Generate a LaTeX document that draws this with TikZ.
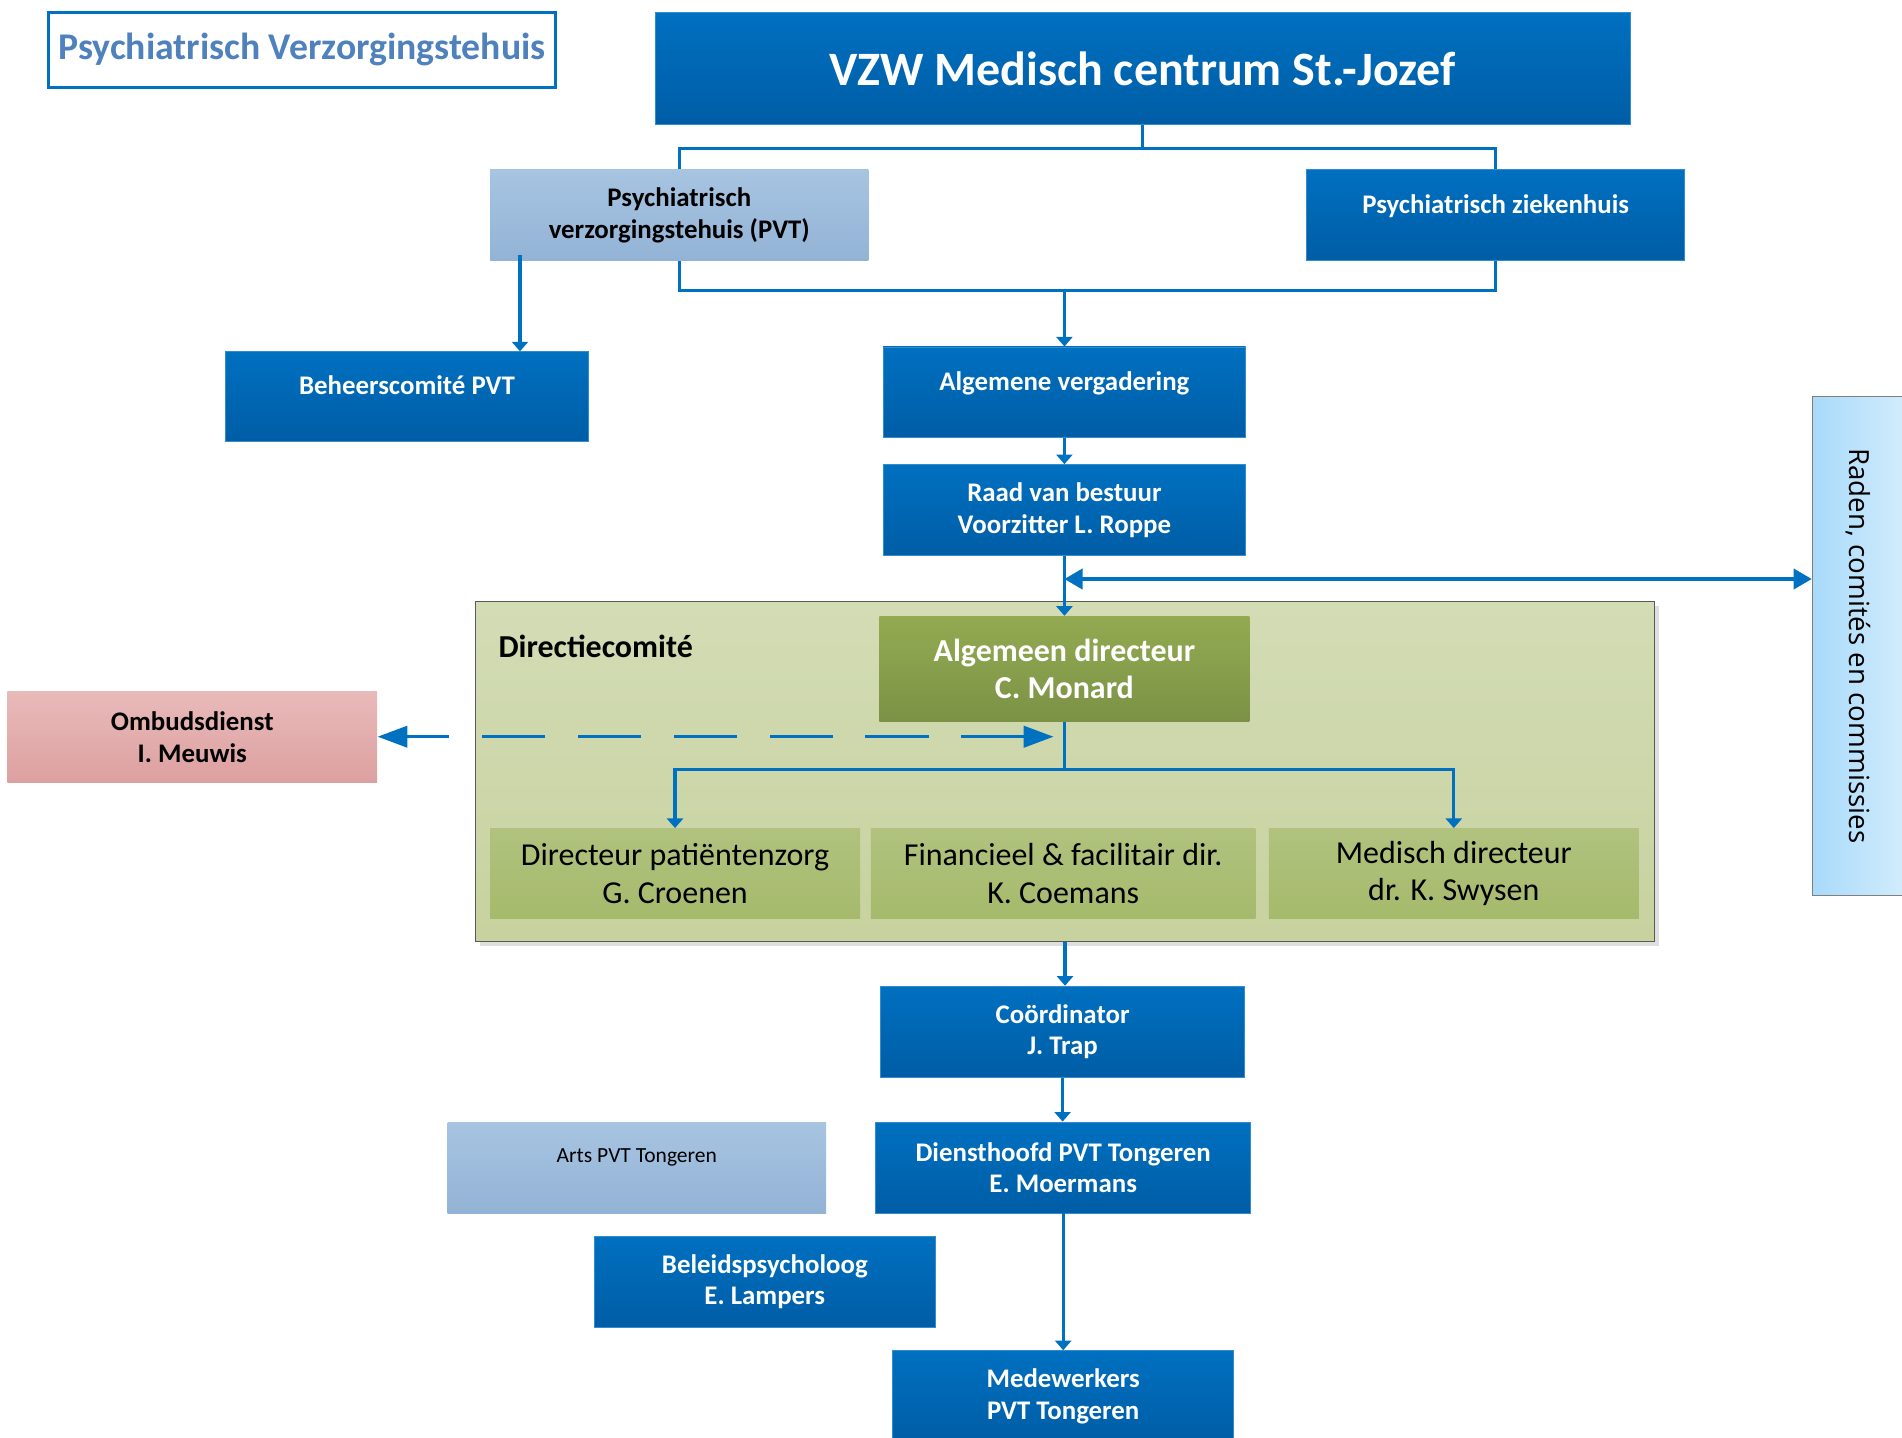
\documentclass[tikz,border=0pt]{standalone}
\usepackage{fontspec}
\setmainfont{Carlito}
\newfontfamily\radenfont{Open Sans}
\usetikzlibrary{arrows.meta,shadows}

\definecolor{boxblue}{HTML}{0070C0}
\definecolor{boxblued}{HTML}{005DA6}
\definecolor{lineblue}{HTML}{0070C0}
\definecolor{titleblue}{HTML}{4F81BD}
\definecolor{pvtl}{HTML}{A7C4E1}
\definecolor{pvtd}{HTML}{93B3D6}
\definecolor{dcl}{HTML}{D3DCB5}
\definecolor{dcd}{HTML}{C7D29F}
\definecolor{adl}{HTML}{93AA52}
\definecolor{add}{HTML}{7B9246}
\definecolor{subl}{HTML}{B0C27E}
\definecolor{subd}{HTML}{A6BA6C}
\definecolor{ombl}{HTML}{E9BABA}
\definecolor{ombd}{HTML}{DDA0A0}
\definecolor{radl}{HTML}{A8DAFA}
\definecolor{radr}{HTML}{D2ECFC}

\tikzset{
  bluebox/.style={draw=boxblue!80!white, line width=0.4pt, top color=boxblue, bottom color=boxblued,
    text=white, font=\bfseries\fontsize{12.6}{14.8}\selectfont, align=center, inner sep=0pt,
    minimum width=5.98cm, minimum height=1.5cm},
  lightbox/.style={top color=pvtl, bottom color=pvtd, text=black,
    font=\bfseries\fontsize{12.6}{14.8}\selectfont, align=center, inner sep=0pt,
    minimum width=6.24cm, minimum height=1.5cm},
  toptext/.style={text depth=11pt},
  subbox/.style={top color=subl, bottom color=subd, text=black,
    font=\fontsize{15}{17.6}\selectfont, align=center, inner sep=0pt, minimum height=1.48cm},
  conn/.style={draw=lineblue, line width=1.5pt},
  arr/.style={conn, -{Triangle[length=4.5pt,width=7.5pt]}},
  dblarr/.style={conn, {Triangle[length=8.5pt,width=9.5pt]}-{Triangle[length=8.5pt,width=9.5pt]}},
  dasharr/.style={conn, dash pattern=on 29.6pt off 15.4pt,
    {Triangle[length=14pt,width=10pt]}-{Triangle[length=14pt,width=10pt]}}
}

\begin{document}
\begin{tikzpicture}[x=0.02cm, y=-0.02cm]
\clip (0,0) rectangle (1568,1185);

% top of the chart
\node[draw=lineblue, line width=1.5pt, fill=white, text=titleblue, font=\bfseries\fontsize{17.7}{20}\selectfont,
  minimum width=8.36cm, minimum height=1.24cm, inner sep=0pt] (title) at (249,41) {Psychiatrisch Verzorgingstehuis};
\node[bluebox, minimum width=16.08cm, minimum height=1.86cm, font=\bfseries\fontsize{22.5}{26}\selectfont]
  (vzw) at (942,56.5) {VZW Medisch centrum St.-Jozef};
\node[lightbox] (pvt) at (560,177.5) {Psychiatrisch\\verzorgingstehuis (PVT)};
\node[bluebox, toptext, minimum width=6.24cm] (pz) at (1233,177.5) {Psychiatrisch ziekenhuis};
\node[bluebox, toptext, minimum height=1.48cm] (beheer) at (335.5,327) {Beheerscomité PVT};
\node[bluebox, toptext] (av) at (877.5,323.5) {Algemene vergadering};
\node[bluebox] (raad) at (877.5,420.5) {Raad van bestuur\\Voorzitter L. Roppe};

% directiecomite
\node[draw=black!65, line width=0.5pt, top color=dcl, bottom color=dcd, minimum width=19.44cm, minimum height=5.6cm,
  drop shadow={shadow xshift=2pt, shadow yshift=-2pt, opacity=0.25}] (dc) at (878,636) {};
\node[anchor=west, font=\bfseries\fontsize{15}{18}\selectfont, inner sep=0pt] (dclabel)
  at ([xshift=0.38cm,yshift=-0.74cm]dc.north west) {Directiecomité};
\node[top color=adl, bottom color=add, text=white, font=\bfseries\fontsize{15}{17.6}\selectfont, align=center,
  inner sep=0pt, minimum width=6.1cm, minimum height=1.74cm] (ad) at (877.5,551.5) {Algemeen directeur\\C. Monard};
\node[subbox, minimum width=6.1cm] (dpz) at (556.5,720) {Directeur patiëntenzorg\\G. Croenen};
\node[subbox, minimum width=6.34cm] (ffd) at (876.5,720) {Financieel \& facilitair dir.\\K. Coemans};
\node[subbox, minimum width=6.1cm] (md) at (1198.5,720) {Medisch directeur\\dr. K. Swysen};

% zijkant
\node[top color=ombl, bottom color=ombd, text=black, font=\bfseries\fontsize{12.6}{14.8}\selectfont, align=center,
  inner sep=0pt, minimum width=6.1cm, minimum height=1.5cm] (ombud) at (158.5,607.5) {Ombudsdienst\\I. Meuwis};
\node[draw=black!50, line width=0.5pt, left color=radl, right color=radr, inner sep=0pt,
  minimum width=1.52cm, minimum height=8.22cm, font=\radenfont\fontsize{13}{15}\selectfont]
  (raden) at (1532,532.5) {\rotatebox{-90}{Raden, comités en commissies}};

% onderaan
\node[bluebox, minimum width=6cm] (coord) at (876,850.5) {Coördinator\\J. Trap};
\node[bluebox, minimum width=6.18cm] (dh) at (876.5,962.5) {Diensthoofd PVT Tongeren\\E. Moermans};
\node[lightbox, toptext, font=\fontsize{10.1}{12}\selectfont] (arts) at (525,962.5) {Arts PVT Tongeren};
\node[bluebox, minimum width=5.62cm] (bp) at (630.5,1056.5) {Beleidspsycholoog\\E. Lampers};
\node[bluebox, minimum width=5.62cm] (mw) at (876.5,1151) {Medewerkers\\PVT Tongeren};

% verbindingen
\draw[conn] (vzw.south) -- ++(0,19) -| (pvt.north);
\draw[conn] (vzw.south) -- ++(0,19) -| (pz.north);
\draw[conn] (pvt.south) -- ++(0,24) -| (pz.south);
\draw[arr] (pvt.south -| av.north) ++(0,24) -- (av.north);
\coordinate (bh) at ([xshift=0.5cm,yshift=0.1cm]pvt.south west);
\draw[arr] (bh) -- (bh |- beheer.north);
\draw[arr] (av.south) -- (raad.north);
\draw[arr] (raad.south) -- (ad.north);
\coordinate (jr) at ([yshift=-0.38cm]raad.south);
\draw[dblarr] (jr) -- (jr -| raden.west);
\draw[arr] (ad.south) -- ++(0,39) -| (dpz.north);
\draw[arr] (ad.south) -- ++(0,39) -| (md.north);
\coordinate (jd) at ([xshift=-0.18cm,yshift=-0.24cm]ad.south);
\draw[dasharr] (jd) -- (jd -| ombud.east);
\draw[arr] (dc.south) -- (dc.south |- coord.north);
\draw[arr] (coord.south) -- (coord.south |- dh.north);
\draw[arr] (dh.south) -- (mw.north);
\end{tikzpicture}
\end{document}
